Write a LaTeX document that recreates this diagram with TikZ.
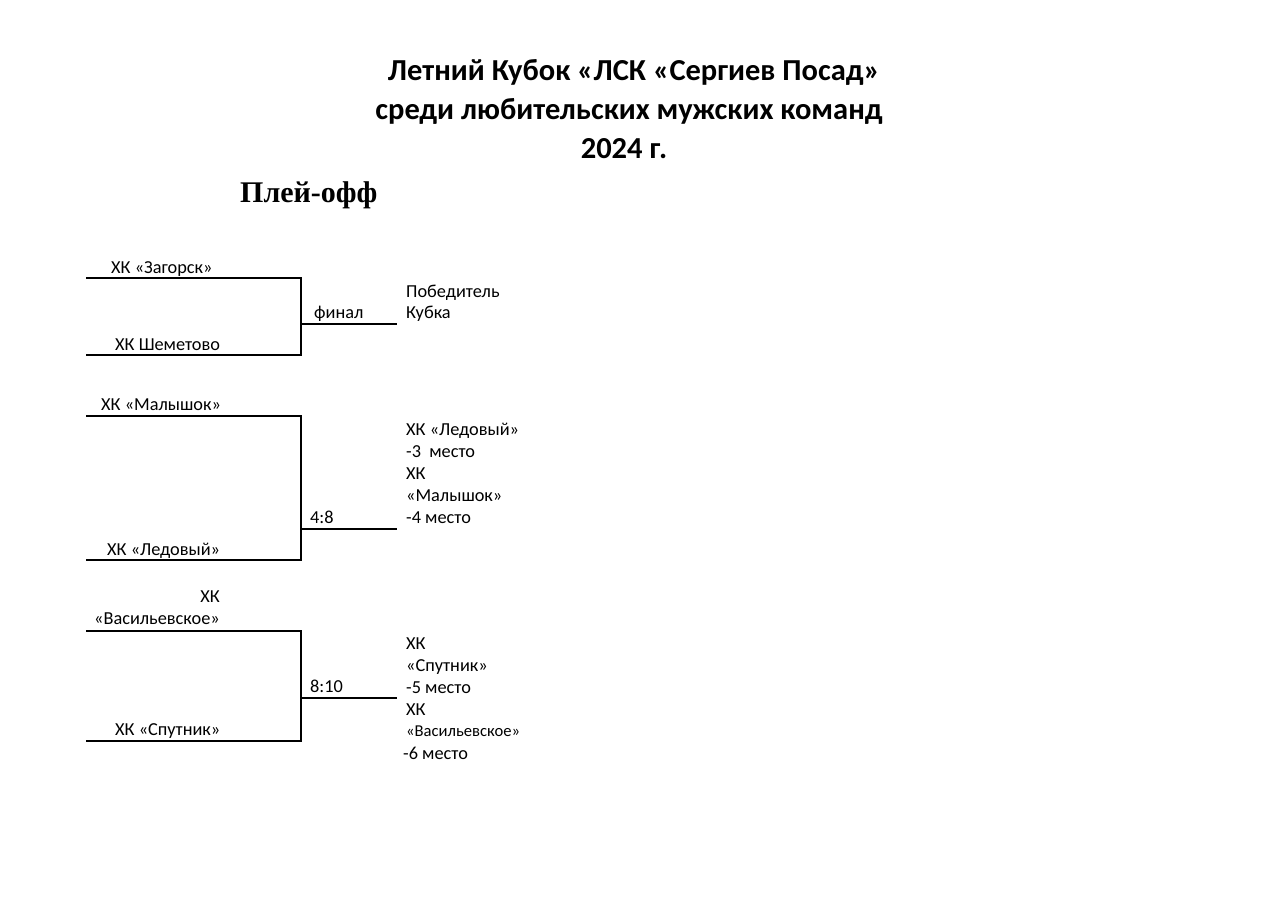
\documentclass[tikz,border=0pt]{standalone}
\usepackage{fontspec}
\setmainfont{Carlito}
\newfontfamily\tms{Liberation Serif}
\begin{document}
\begin{tikzpicture}[x=1pt,y=-1pt,
  lbl/.style={anchor=base west,inner sep=0pt,font=\fontsize{18.3}{20}\selectfont},
  lblr/.style={anchor=base east,inner sep=0pt,font=\fontsize{18.3}{20}\selectfont},
  ttl/.style={anchor=base,inner sep=0pt,font=\fontsize{30.5}{34}\selectfont\bfseries},
  br/.style={line width=1.6pt,black}]
\useasboundingbox (0,0) rectangle (1280,905);
\fill[white] (0,0) rectangle (1280,905);
% titles
\node[ttl] (t1) at (634,80) {Летний Кубок «ЛСК «Сергиев Посад»};
\node[ttl] (t2) at (629,119) {среди любительских мужских команд};
\node[ttl] (t3) at (624,158) {2024 г.};
\node[anchor=base west,inner sep=0pt,font=\tms\fontsize{30}{34}\selectfont\bfseries] (po) at (240,202) {Плей-офф};
% bracket 1
\coordinate (a1) at (86,278); \coordinate (a2) at (301,278);
\coordinate (a3) at (86,355); \coordinate (a4) at (301,355);
\coordinate (a5) at (301,324); \coordinate (a6) at (397,324);
\draw[br] (a1) -- (a2) -- (a4) -- (a3);
\draw[br] (a5) -- (a6);
\node[lbl] (n1) at (111,273) {ХК «Загорск»};
\node[lbl] (n2) at (115,350) {ХК Шеметово};
\node[lbl] (f1) at (314,318) {финал};
\node[lbl] (w1) at (406,297) {Победитель};
\node[lbl] (w2) at (406,318) {Кубка};
% bracket 2
\coordinate (b1) at (86,416); \coordinate (b2) at (301,416);
\coordinate (b3) at (86,560); \coordinate (b4) at (301,560);
\coordinate (b5) at (301,529); \coordinate (b6) at (397,529);
\draw[br] (b1) -- (b2) -- (b4) -- (b3);
\draw[br] (b5) -- (b6);
\node[lbl] (m1) at (101,410) {ХК «Малышок»};
\node[lbl] (m2) at (107,555) {ХК «Ледовый»};
\node[lbl] (s2) at (310,523) {4:8};
\node[lbl] (r1) at (406,435) {ХК «Ледовый»};
\node[lbl] (r2) at (406,457) {-3\ \ место};
\node[lbl] (r3) at (406,479) {ХК};
\node[lbl] (r4) at (406,501) {«Малышок»};
\node[lbl] (r5) at (406,523) {-4 место};
% bracket 3
\coordinate (c1) at (86,631); \coordinate (c2) at (301,631);
\coordinate (c3) at (86,741); \coordinate (c4) at (301,741);
\coordinate (c5) at (301,698); \coordinate (c6) at (397,698);
\draw[br] (c1) -- (c2) -- (c4) -- (c3);
\draw[br] (c5) -- (c6);
\node[lblr] (v1) at (220,602) {ХК};
\node[lblr] (v2) at (220,624) {«Васильевское»};
\node[lbl] (sp) at (115,735) {ХК «Спутник»};
\node[lbl] (s3) at (310,692) {8:10};
\node[lbl] (q1) at (406,649) {ХК};
\node[lbl] (q2) at (406,671) {«Спутник»};
\node[lbl] (q3) at (406,693) {-5 место};
\node[lbl] (q4) at (406,715) {ХК};
\node[lbl,font=\fontsize{16.6}{20}\selectfont] (q5) at (406,736) {«Васильевское»};
\node[lbl] (q6) at (403,759) {-6 место};
\end{tikzpicture}
\end{document}
